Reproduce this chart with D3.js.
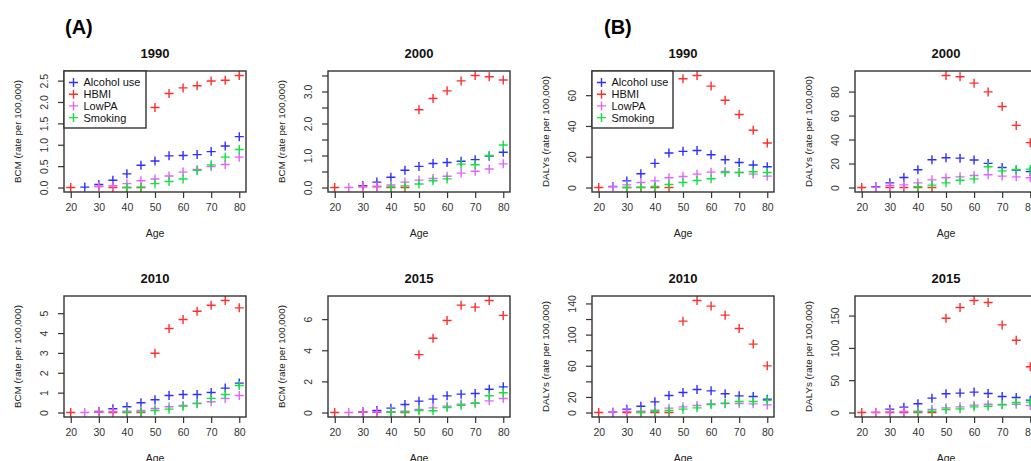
<!DOCTYPE html>
<html>
<head>
<meta charset="utf-8">
<script src="https://cdn.jsdelivr.net/npm/d3@7/dist/d3.min.js"></script>
<style>
  html, body { margin: 0; padding: 0; background: #fff; overflow: hidden; }
  svg { display: block; font-family: "Liberation Sans", Arial, sans-serif; }
</style>
</head>
<body>
<svg id="chart" width="1031" height="461"></svg>
<script>
// ---------- data ----------
const ages = [20, 25, 30, 35, 40, 45, 50, 55, 60, 65, 70, 75, 80];
const seriesNames = ["Alcohol use", "HBMI", "LowPA", "Smoking"];
const seriesColors = ["#2e2eff", "#ff2e2e", "#e064ff", "#14e040"];
const years = ["1990", "2000", "2010", "2015"];

// (A) BCM (rate per 100,000)
const bcm1990Alcohol = [null, 0.01, 0.07, 0.17, 0.32, 0.52, 0.62, 0.74, 0.75, 0.77, 0.84, 0.97, 1.19];
const bcm1990HBMI    = [0, null, 0.02, 0.0, 0.0, 0.0, 1.87, 2.20, 2.33, 2.38, 2.49, 2.51, 2.62];
const bcm1990LowPA   = [null, null, 0.03, 0.04, 0.09, 0.16, 0.20, 0.27, 0.36, 0.42, 0.49, 0.54, 0.71];
const bcm1990Smoking = [null, null, null, null, 0.0, 0.01, 0.09, 0.14, 0.20, 0.40, 0.53, 0.71, 0.89];

const bcm2000Alcohol = [null, null, 0.06, 0.17, 0.32, 0.54, 0.66, 0.75, 0.78, 0.82, 0.87, 0.98, 1.10];
const bcm2000HBMI    = [0, null, 0.02, 0.02, 0.0, 0.0, 2.43, 2.78, 3.02, 3.33, 3.50, 3.46, 3.36];
const bcm2000LowPA   = [null, 0.0, 0.03, 0.04, 0.08, 0.17, 0.23, 0.28, 0.35, 0.45, 0.51, 0.58, 0.74];
const bcm2000Smoking = [null, null, null, null, 0.02, 0.05, 0.11, 0.21, 0.27, 0.73, 0.71, 1.00, 1.33];

const bcm2010Alcohol = [null, null, 0.05, 0.19, 0.29, 0.49, 0.64, 0.86, 0.91, 0.91, 1.01, 1.23, 1.48];
const bcm2010HBMI    = [0, null, 0.02, 0.0, 0.0, 0.0, 2.98, 4.23, 4.68, 5.10, 5.40, 5.64, 5.27];
const bcm2010LowPA   = [null, 0.0, 0.03, 0.05, 0.07, 0.10, 0.20, 0.29, 0.35, 0.47, 0.54, 0.71, 0.86];
const bcm2010Smoking = [null, null, null, null, 0.02, 0.03, 0.10, 0.17, 0.32, 0.45, 0.71, 0.91, 1.36];

const bcm2015Alcohol = [null, null, 0.05, 0.13, 0.28, 0.52, 0.73, 0.86, 1.07, 1.18, 1.22, 1.50, 1.65];
const bcm2015HBMI    = [0, null, 0.02, 0.02, 0.02, 0.0, 3.72, 4.77, 5.91, 6.90, 6.77, 7.20, 6.24];
const bcm2015LowPA   = [null, 0.0, 0.04, 0.05, 0.06, 0.08, 0.19, 0.30, 0.41, 0.54, 0.62, 0.75, 0.90];
const bcm2015Smoking = [null, null, null, null, 0.02, 0.03, 0.13, 0.11, 0.32, 0.47, 0.60, 1.08, 1.27];

// (B) DALYs (rate per 100,000)
const daly1990Alcohol = [null, 0.7, 4.3, 8.9, 15.7, 22.4, 23.5, 24.1, 21.3, 18.0, 16.3, 14.6, 13.5];
const daly1990HBMI    = [0, null, 0, 0, 0, 0, 70.7, 72.8, 65.9, 56.7, 47.4, 37.2, 28.9];
const daly1990LowPA   = [null, 0.5, 1.7, 3.3, 4.3, 6.3, 7.2, 8.7, 10.0, 10.4, 9.8, 8.7, 7.4];
const daly1990Smoking = [null, null, 0.0, 0.2, 0.7, 2.0, 3.3, 4.6, 5.7, 9.8, 9.8, 10.2, 9.8];

const daly2000Alcohol = [null, 0.6, 3.9, 8.4, 14.8, 23.1, 24.8, 24.5, 22.9, 20.1, 16.7, 14.5, 13.4];
const daly2000HBMI    = [0, null, 0, 0, 0, 0, 93.4, 92.3, 87.0, 79.7, 67.5, 51.8, 37.4];
const daly2000LowPA   = [null, 0.3, 1.7, 2.2, 3.9, 6.4, 8.1, 8.9, 10.0, 10.6, 9.5, 8.9, 8.1];
const daly2000Smoking = [null, null, null, null, 0.6, 2.0, 3.9, 6.1, 7.2, 17.3, 13.9, 15.1, 15.3];

const daly2010Alcohol = [null, 0.5, 4.3, 8.1, 13.7, 21.8, 25.7, 29.5, 27.8, 24.0, 21.4, 20.5, 17.1];
const daly2010HBMI    = [0, null, 0, 0, 0, 0, 117.3, 143.8, 136.6, 125.0, 107.9, 87.8, 59.9];
const daly2010LowPA   = [null, 0.5, 1.5, 1.7, 3.0, 5.6, 7.3, 9.0, 11.1, 11.6, 11.6, 11.1, 9.8];
const daly2010Smoking = [null, null, null, 0.4, 1.7, 2.6, 4.3, 6.0, 10.3, 12.0, 14.1, 14.1, 15.8];

const daly2015Alcohol = [null, null, 5.2, 8.3, 13.5, 22.2, 29.0, 30.0, 31.6, 29.5, 24.8, 23.3, 19.1];
const daly2015HBMI    = [0, 0, 0, 0, 0, 0, 145.9, 162.4, 173.3, 170.2, 135.5, 111.7, 70.9];
const daly2015LowPA   = [null, 0.5, 1.0, 1.6, 2.0, 4.7, 7.2, 8.8, 11.4, 12.9, 12.4, 12.9, 10.9];
const daly2015Smoking = [null, null, null, null, 1.0, 2.0, 4.7, 5.7, 8.8, 9.8, 12.0, 15.5, 16.0];

// tick values and labels
const xTicks = [20, 30, 40, 50, 60, 70, 80];
const bcm1990Ticks = [0, 0.5, 1.0, 1.5, 2.0, 2.5];
const bcm1990Labels = ["0.0", "0.5", "1.0", "1.5", "2.0", "2.5"];
const bcm2000Ticks = [0, 0.5, 1.0, 1.5, 2.0, 2.5, 3.0, 3.5];
const bcm2000Labels = ["0.0", "", "1.0", "", "2.0", "", "3.0", ""];
const bcm2010Ticks = [0, 1, 2, 3, 4, 5];
const bcm2010Labels = ["0", "1", "2", "3", "4", "5"];
const bcm2015Ticks = [0, 2, 4, 6];
const bcm2015Labels = ["0", "2", "4", "6"];
const daly1990Ticks = [0, 20, 40, 60];
const daly1990Labels = ["0", "20", "40", "60"];
const daly2000Ticks = [0, 20, 40, 60, 80];
const daly2000Labels = ["0", "20", "40", "60", "80"];
const daly2010Ticks = [0, 20, 40, 60, 80, 100, 120, 140];
const daly2010Labels = ["0", "20", "", "60", "", "100", "", "140"];
const daly2015Ticks = [0, 50, 100, 150];
const daly2015Labels = ["0", "50", "100", "150"];

const bcmYLabel = "BCM (rate per 100,000)";
const dalyYLabel = "DALYs (rate per 100,000)";
const xLabel = "Age";

// ---------- layout ----------
const panels = [
  { title: years[0], col: 0, row: 0, ylab: bcmYLabel, ticks: bcm1990Ticks, labels: bcm1990Labels, legend: true,
    series: [bcm1990Alcohol, bcm1990HBMI, bcm1990LowPA, bcm1990Smoking] },
  { title: years[1], col: 1, row: 0, ylab: bcmYLabel, ticks: bcm2000Ticks, labels: bcm2000Labels,
    series: [bcm2000Alcohol, bcm2000HBMI, bcm2000LowPA, bcm2000Smoking] },
  { title: years[2], col: 0, row: 1, ylab: bcmYLabel, ticks: bcm2010Ticks, labels: bcm2010Labels,
    series: [bcm2010Alcohol, bcm2010HBMI, bcm2010LowPA, bcm2010Smoking] },
  { title: years[3], col: 1, row: 1, ylab: bcmYLabel, ticks: bcm2015Ticks, labels: bcm2015Labels,
    series: [bcm2015Alcohol, bcm2015HBMI, bcm2015LowPA, bcm2015Smoking] },
  { title: years[0], col: 2, row: 0, ylab: dalyYLabel, ticks: daly1990Ticks, labels: daly1990Labels, legend: true,
    series: [daly1990Alcohol, daly1990HBMI, daly1990LowPA, daly1990Smoking] },
  { title: years[1], col: 3, row: 0, ylab: dalyYLabel, ticks: daly2000Ticks, labels: daly2000Labels,
    series: [daly2000Alcohol, daly2000HBMI, daly2000LowPA, daly2000Smoking] },
  { title: years[2], col: 2, row: 1, ylab: dalyYLabel, ticks: daly2010Ticks, labels: daly2010Labels,
    series: [daly2010Alcohol, daly2010HBMI, daly2010LowPA, daly2010Smoking] },
  { title: years[3], col: 3, row: 1, ylab: dalyYLabel, ticks: daly2015Ticks, labels: daly2015Labels,
    series: [daly2015Alcohol, daly2015HBMI, daly2015LowPA, daly2015Smoking] }
];

const colLeft = [64, 328, 592, 855];
const rowTop = [71, 296];
const boxW = 182, boxH = 121;
const axisColor = "#333";
const textColor = "#111";

const svg = d3.select("#chart");

// figure labels
svg.append("text").attr("x", 65).attr("y", 34).attr("font-size", 20).attr("font-weight", "bold")
  .attr("fill", "#000").text("(A)");
svg.append("text").attr("x", 604).attr("y", 34).attr("font-size", 20).attr("font-weight", "bold")
  .attr("fill", "#000").text("(B)");

const plusPath = "M-4.5,0H4.5M0,-4.5V4.5";

panels.forEach(p => {
  const left = colLeft[p.col], top = rowTop[p.row];
  const g = svg.append("g").attr("transform", `translate(${left},${top})`);

  // R-style 4% padding
  const xr = d3.extent(ages);
  const xpad = (xr[1] - xr[0]) * 0.04;
  const x = d3.scaleLinear().domain([xr[0] - xpad, xr[1] + xpad]).range([0, boxW]);
  const allVals = p.series.flat().filter(v => v !== null);
  const yr = d3.extent(allVals);
  const ypad = (yr[1] - yr[0]) * 0.04;
  const y = d3.scaleLinear().domain([yr[0] - ypad, yr[1] + ypad]).range([boxH, 0]);

  // x axis
  const xAxis = g.append("g").attr("transform", `translate(0,${boxH})`)
    .call(d3.axisBottom(x).tickValues(xTicks).tickFormat(d3.format("d")).tickSize(6).tickSizeOuter(0));
  xAxis.select(".domain").remove();
  xAxis.selectAll(".tick line").attr("stroke", axisColor).attr("stroke-width", 1.2);
  xAxis.selectAll(".tick text").attr("y", 12).attr("dy", "0.71em").attr("font-size", 10.5)
    .attr("fill", "#333").attr("font-family", "Liberation Sans, Arial, sans-serif");

  // y axis
  const yAxis = g.append("g")
    .call(d3.axisLeft(y).tickValues(p.ticks).tickFormat((d, i) => p.labels[i]).tickSize(6).tickSizeOuter(0));
  yAxis.select(".domain").remove();
  yAxis.selectAll(".tick line").attr("stroke", axisColor).attr("stroke-width", 1.2);
  yAxis.selectAll(".tick text")
    .attr("transform", "rotate(-90)")
    .attr("x", 0).attr("y", -16).attr("dy", 0)
    .attr("text-anchor", "middle")
    .attr("font-size", 10.5).attr("fill", "#333")
    .attr("font-family", "Liberation Sans, Arial, sans-serif");

  // points
  p.series.forEach((vals, si) => {
    const pts = ages.map((a, i) => ({ a, v: vals[i] })).filter(d => d.v !== null);
    g.append("g").selectAll("path").data(pts).join("path")
      .attr("d", plusPath)
      .attr("transform", d => `translate(${x(d.a)},${y(d.v)})`)
      .attr("stroke", seriesColors[si]).attr("stroke-width", 1.4).attr("fill", "none");
  });

  // box
  g.append("rect").attr("x", 0).attr("y", 0).attr("width", boxW).attr("height", boxH)
    .attr("fill", "none").attr("stroke", axisColor).attr("stroke-width", 1.4);

  // title
  g.append("text").attr("x", boxW / 2).attr("y", -13).attr("text-anchor", "middle")
    .attr("font-size", 13).attr("font-weight", "bold").attr("fill", textColor).text(p.title);

  // axis labels
  g.append("text").attr("x", boxW / 2).attr("y", boxH + 45).attr("text-anchor", "middle")
    .attr("font-size", 10.5).attr("fill", "#222").text(xLabel);
  g.append("text").attr("transform", `translate(-43,${boxH / 2}) rotate(-90)`)
    .attr("text-anchor", "middle").attr("font-size", 9.8).attr("fill", "#222").text(p.ylab);

  // legend
  if (p.legend) {
    const lw = p.col === 0 ? 82 : 81, lh = 57;
    const lg = g.append("g");
    lg.append("rect").attr("x", 0).attr("y", 0).attr("width", lw).attr("height", lh)
      .attr("fill", "#fff").attr("stroke", axisColor).attr("stroke-width", 1.4);
    seriesNames.forEach((name, i) => {
      const cy = 11.5 + i * 11.7;
      lg.append("path").attr("d", plusPath).attr("transform", `translate(9.5,${cy})`)
        .attr("stroke", seriesColors[i]).attr("stroke-width", 1.4).attr("fill", "none");
      lg.append("text").attr("x", 19.5).attr("y", cy).attr("dy", "0.36em")
        .attr("font-size", 11).attr("fill", "#111").text(name);
    });
  }
});
</script>
</body>
</html>
